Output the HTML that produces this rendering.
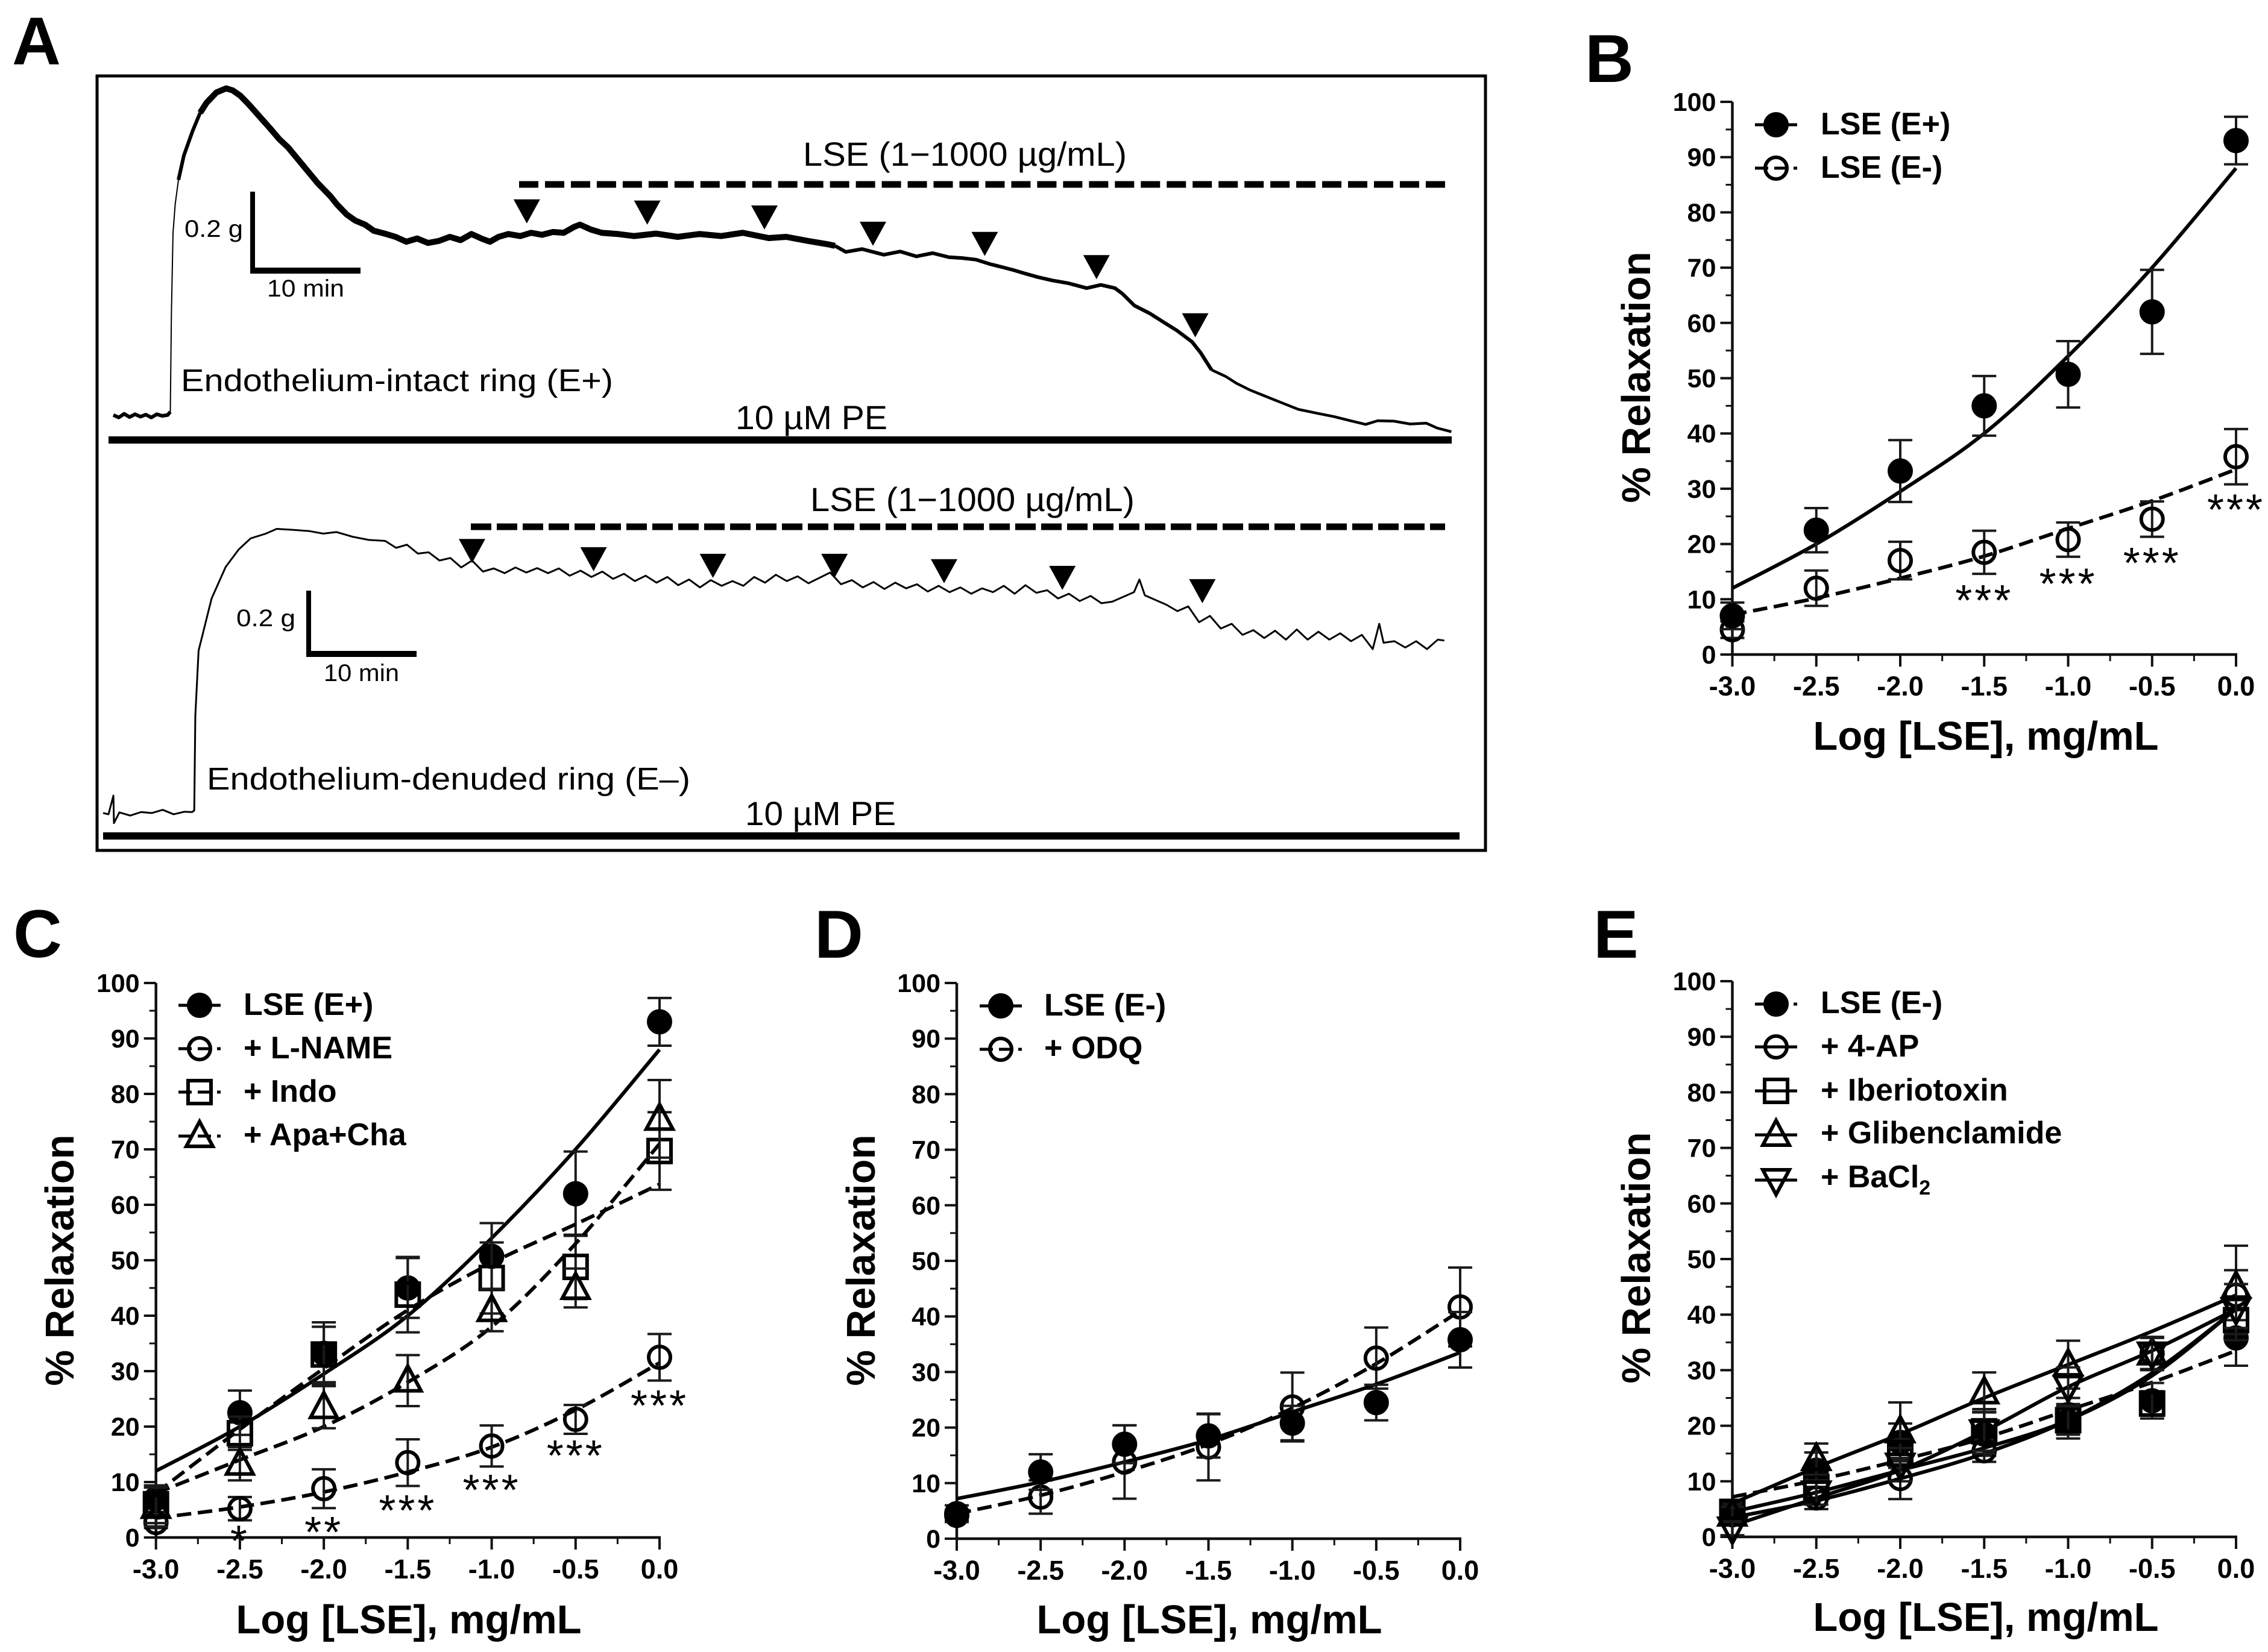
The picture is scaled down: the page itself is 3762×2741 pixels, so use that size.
<!DOCTYPE html>
<html lang="en">
<head>
<meta charset="utf-8">
<title>LSE vascular relaxation figure</title>
<style>
html,body{margin:0;padding:0;background:#fff;}
svg{display:block;}
text{font-family:"Liberation Sans",Arial,sans-serif;fill:#000;}
.b{font-weight:bold;}
.letter{font-weight:bold;font-size:112px;}
.title{font-weight:bold;font-size:67px;}
.leg{font-weight:bold;font-size:52px;}
.anno{font-size:48px;}
</style>
</head>
<body>
<svg id="fig" xmlns="http://www.w3.org/2000/svg" width="3762" height="2741" viewBox="0 0 3762 2741">
<rect x="0" y="0" width="3762" height="2741" fill="#fff"/>

<text class="letter" x="20" y="107">A</text>
<text class="letter" x="2629" y="136">B</text>
<text class="letter" x="22" y="1588">C</text>
<text class="letter" x="1351" y="1589">D</text>
<text class="letter" x="2643" y="1589">E</text>

<g id="panel-a">
<rect x="161" y="126" width="2303" height="1285" fill="none" stroke="#000" stroke-width="5"/>
<text class="anno" x="1332" y="275" textLength="537" lengthAdjust="spacingAndGlyphs" style="font-size:56px">LSE (1−1000 µg/mL)</text>
<line x1="861" y1="306" x2="2397" y2="306" stroke="#000" stroke-width="11" stroke-dasharray="32 10.97"/>
<text class="anno" x="1220" y="712" textLength="252" lengthAdjust="spacingAndGlyphs" style="font-size:56px">10 µM PE</text>
<rect x="180" y="724" width="2228" height="12" fill="#000"/>
<text class="anno" x="300" y="649" textLength="717" lengthAdjust="spacingAndGlyphs" style="font-size:52px">Endothelium-intact ring (E+)</text>
<text class="anno" x="306" y="393" textLength="97" lengthAdjust="spacingAndGlyphs" style="font-size:40px">0.2 g</text>
<text class="anno" x="443" y="492" textLength="128" lengthAdjust="spacingAndGlyphs" style="font-size:40px">10 min</text>
<rect x="415" y="318" width="8" height="136" fill="#000"/>
<rect x="415" y="444" width="183" height="10" fill="#000"/>

<text class="anno" x="1344" y="848" textLength="538" lengthAdjust="spacingAndGlyphs" style="font-size:56px">LSE (1−1000 µg/mL)</text>
<line x1="781" y1="874" x2="2397" y2="874" stroke="#000" stroke-width="11" stroke-dasharray="34 9"/>
<text class="anno" x="1236" y="1369" textLength="250" lengthAdjust="spacingAndGlyphs" style="font-size:56px">10 µM PE</text>
<rect x="171" y="1381" width="2250" height="12" fill="#000"/>
<text class="anno" x="343" y="1310" textLength="802" lengthAdjust="spacingAndGlyphs" style="font-size:52px">Endothelium-denuded ring (E–)</text>
<text class="anno" x="392" y="1039" textLength="98" lengthAdjust="spacingAndGlyphs" style="font-size:40px">0.2 g</text>
<text class="anno" x="537" y="1130" textLength="125" lengthAdjust="spacingAndGlyphs" style="font-size:40px">10 min</text>
<rect x="508" y="980" width="8" height="110" fill="#000"/>
<rect x="508" y="1080" width="183" height="10" fill="#000"/>
</g>

<g id="panel-b">
<text class="title" transform="translate(2737 626) rotate(-90)" text-anchor="middle">% Relaxation</text>
<text class="title" x="3294" y="1244" text-anchor="middle">Log [LSE], mg/mL</text>
<text class="leg" x="3020" y="223">LSE (E+)</text>
<text class="leg" x="3020" y="295">LSE (E-)</text>
</g>

<g id="panel-c">
<text class="title" transform="translate(122 2091) rotate(-90)" text-anchor="middle">% Relaxation</text>
<text class="title" x="678" y="2710" text-anchor="middle">Log [LSE], mg/mL</text>
<text class="leg" x="404" y="1684">LSE (E+)</text>
<text class="leg" x="404" y="1756">+ L-NAME</text>
<text class="leg" x="404" y="1828">+ Indo</text>
<text class="leg" x="404" y="1900">+ Apa+Cha</text>
</g>

<g id="panel-d">
<text class="title" transform="translate(1451 2091) rotate(-90)" text-anchor="middle">% Relaxation</text>
<text class="title" x="2006" y="2710" text-anchor="middle">Log [LSE], mg/mL</text>
<text class="leg" x="1732" y="1685">LSE (E-)</text>
<text class="leg" x="1732" y="1756">+ ODQ</text>
</g>

<g id="panel-e">
<text class="title" transform="translate(2737 2087) rotate(-90)" text-anchor="middle">% Relaxation</text>
<text class="title" x="3294" y="2706" text-anchor="middle">Log [LSE], mg/mL</text>
<text class="leg" x="3020" y="1681">LSE (E-)</text>
<text class="leg" x="3020" y="1753">+ 4-AP</text>
<text class="leg" x="3020" y="1826">+ Iberiotoxin</text>
<text class="leg" x="3020" y="1897">+ Glibenclamide</text>
<text class="leg" x="3020" y="1970">+ BaCl<tspan dy="12" style="font-size:34px">2</tspan></text>
</g>
</svg>

<script>
// ---------- shared axes data ----------
const logDoses = [-3, -2.5, -2, -1.5, -1, -0.5, 0];
const xTickLabels = ['-3.0', '-2.5', '-2.0', '-1.5', '-1.0', '-0.5', '0.0'];
const xMinorTicks = [-2.75, -2.25, -1.75, -1.25, -0.75, -0.25];
const yTicks = [0, 10, 20, 30, 40, 50, 60, 70, 80, 90, 100];
const yMinorTicks = [5, 15, 25, 35, 45, 55, 65, 75, 85, 95];

// ---------- panels B-E series values ----------
const lseEPlus = [7, 22.5, 33.2, 45, 50.7, 62, 93];
const lseEPlusErr = [2.4, 4, 5.6, 5.4, 6, 7.6, 4.3];
const lseEPlusFit = [12, 20, 29.5, 40, 54, 70, 88];
const lseEMinus = [4.5, 12, 17, 18.5, 20.8, 24.5, 35.8];
const lseEMinusErr = [1.5, 3.2, 3.4, 3.9, 3.1, 3.2, 5];
const lseEMinusFit = [7.2, 10.2, 13.8, 17.8, 22.8, 27.8, 33.5];

const lNameValues = [2.7, 5.2, 8.8, 13.5, 16.5, 21.3, 32.5];
const lNameErr = [1, 2.1, 3.5, 4.2, 3.7, 2.6, 4.2];
const lNameFit = [3.5, 5.5, 8.2, 11.8, 16.3, 23, 31.5];
const indoValues = [6, 18.8, 33, 43.8, 46.8, 48.8, 69.7];
const indoErr = [3.4, 3, 5, 6.8, 6.4, 5.8, 7];
const indoFit = [8, 19.5, 30.5, 41, 49.5, 56.5, 63.7];
const apaChaValues = [5.5, 13.3, 23.5, 28.3, 41, 45, 75.5];
const apaChaErr = [3.5, 3, 3.8, 4.6, 3.8, 3.5, 7];
const apaChaFit = [8, 14, 20, 28, 38, 53, 71];

const odqValues = [4.2, 7.5, 13.8, 16.5, 23.7, 32.5, 41.7];
const odqErr = [1, 3, 6.6, 6, 6.2, 5.5, 7.1];
const odqFit = [4.5, 7.8, 12, 17, 23.5, 31.5, 41];

const fourApValues = [4, 7, 10.5, 15.5, 22, 33, 43.5];
const fourApErr = [1.2, 2, 3.7, 2, 3, 2.8, 4.5];
const fourApFit = [3.5, 6.5, 10.5, 15, 21, 29.5, 41];
const iberiotoxinValues = [4.5, 9, 15, 19, 21, 24, 39];
const iberiotoxinErr = [1.4, 2, 2.6, 3.5, 2.6, 2.2, 3.6];
const iberiotoxinFit = [4.5, 8, 12, 16, 21, 29, 41];
const glibenclamideValues = [4, 14, 19, 26, 31, 33, 45];
const glibenclamideErr = [1.4, 2.8, 5.2, 3.6, 4.3, 2.9, 7.4];
const glibenclamideFit = [6, 12.5, 18.5, 25, 31, 37, 43.5];
const baclValues = [1.5, 8, 13, 19, 27, 33, 41];
const baclErr = [1.2, 2.2, 3, 4, 3.5, 3, 4.5];
const baclFit = [2, 7, 12, 19, 27, 33.5, 41];

// ---------- significance labels ----------
const panelBStarDoses = [-1.5, -1, -0.5, 0];
const panelBStarLabels = ['***', '***', '***', '***'];
const panelBStarLevels = [11, 14, 17.8, 27.4];
const panelCStarDoses = [-2.5, -2, -1.5, -1, -0.5, 0];
const panelCStarLabels = ['*', '**', '***', '***', '***', '***'];
const panelCStarLevels = [0.6, 2.2, 6.1, 9.8, 16, 25];

// ---------- panel A myograph traces (minutes, grams) ----------
const intactTime = [0,0.5,1,1.5,2,2.5,3,3.5,4,4.5,5,5.25,5.35,5.5,5.7,6,6.5,7.3,8,8.6,9.5,10.4,11,11.7,12.5,13.5,14.5,15.3,16.1,17.5,18.8,20,20.6,21.5,22.3,23.2,24,25,26,27,28,29,30,31,32,33,34,34.7,35.5,36.4,37.5,38.5,39.5,40.5,41.5,42.5,43,44,45,46.5,48,50,52,54,56,58,60.4,62,64,65.8,66.5,67.5,69,71,72.5,74,75.5,77,78.2,79.5,80.8,82,83,84,85.2,86.5,88,89.7,91,92.3,93,94.1,95.5,96.8,98,99.4,100.2,101.2,102.5,103.5,104.7,106,107.5,109.2,111,112.5,114,115.4,116.5,118,119.5,121,122,123.3];
const intactTension = [0.002,-0.004,0.005,-0.003,0.004,-0.002,0.003,-0.004,0.004,0,0.002,0.01,0.25,0.45,0.52,0.58,0.64,0.7,0.745,0.77,0.795,0.805,0.8,0.787,0.765,0.735,0.705,0.68,0.66,0.615,0.573,0.54,0.52,0.495,0.48,0.47,0.455,0.448,0.44,0.428,0.436,0.425,0.43,0.44,0.432,0.447,0.435,0.428,0.44,0.447,0.442,0.45,0.445,0.452,0.45,0.465,0.47,0.458,0.45,0.447,0.442,0.448,0.44,0.447,0.442,0.45,0.437,0.44,0.43,0.422,0.418,0.403,0.41,0.396,0.404,0.392,0.4,0.39,0.388,0.384,0.373,0.365,0.358,0.35,0.341,0.333,0.326,0.314,0.322,0.314,0.3,0.271,0.252,0.23,0.21,0.182,0.155,0.113,0.097,0.08,0.064,0.05,0.034,0.016,0.006,-0.002,-0.012,-0.021,-0.012,-0.013,-0.02,-0.018,-0.03,-0.039];
const denudedTime = [0,0.5,0.95,1,1.5,2.5,3.5,4.5,5.5,6.5,7.5,8.2,8.4,8.5,8.8,10,11.3,12.5,13.6,15,16,17.5,19,20.3,21.5,23,24.5,26,27,28,29,30,31,32,33,34,35,36,37,38,39,40,41,42,43,44,45,46,47,48,49,50,51,52,53,54,55,56,57,58,59,60,61,62,63,64,65,66,67,68,69,70,71,72,73,74,75,76,77,78,79,80,81,82,83,84,85,86,87,88,89,90,91,92,93,94,95,95.5,96,97,98,99,100,101,102,103,104,105,106,107,108,109,110,111,112,113,114,115,116,117,117.6,118,119,120,121,122,123,123.6];
const denudedTension = [0.002,-0.002,0.057,-0.03,0.004,-0.006,0.005,0.002,0.012,-0.002,0.006,0.005,0.01,0.31,0.515,0.68,0.78,0.835,0.87,0.885,0.9,0.897,0.893,0.885,0.89,0.875,0.865,0.862,0.84,0.85,0.822,0.826,0.8,0.808,0.778,0.8,0.765,0.775,0.76,0.778,0.762,0.776,0.76,0.775,0.752,0.768,0.748,0.765,0.742,0.758,0.735,0.752,0.73,0.748,0.722,0.74,0.715,0.738,0.72,0.735,0.72,0.748,0.73,0.755,0.735,0.75,0.728,0.745,0.762,0.725,0.738,0.715,0.732,0.71,0.73,0.712,0.725,0.702,0.72,0.7,0.715,0.695,0.712,0.7,0.72,0.695,0.722,0.698,0.706,0.68,0.695,0.672,0.688,0.665,0.67,0.685,0.7,0.74,0.69,0.675,0.66,0.64,0.655,0.605,0.625,0.585,0.6,0.565,0.58,0.555,0.578,0.55,0.582,0.55,0.575,0.55,0.57,0.545,0.565,0.52,0.6,0.54,0.545,0.525,0.545,0.52,0.55,0.547];
const intactArrowTimes = [38.1, 49.2, 60, 70, 80.3, 90.6, 99.7];
const intactArrowTips = [0.473, 0.47, 0.458, 0.418, 0.393, 0.336, 0.193];
const denudedArrowTimes = [34, 45.2, 56.2, 67.4, 77.5, 88.4, 101.3];
const denudedArrowTips = [0.792, 0.766, 0.745, 0.745, 0.728, 0.707, 0.665];

// ---------- helpers ----------
const NS = 'http://www.w3.org/2000/svg';
function make(tag, parent, attrs) {
  const el = document.createElementNS(NS, tag);
  for (const k in attrs) el.setAttribute(k, attrs[k]);
  parent.appendChild(el);
  return el;
}
function smoothPath(pts) {
  let d = 'M' + pts[0][0] + ' ' + pts[0][1];
  for (let i = 0; i < pts.length - 1; i++) {
    const p0 = pts[Math.max(i - 1, 0)], p1 = pts[i], p2 = pts[i + 1], p3 = pts[Math.min(i + 2, pts.length - 1)];
    d += ' C' + (p1[0] + (p2[0] - p0[0]) / 6) + ' ' + (p1[1] + (p2[1] - p0[1]) / 6) + ' ' +
      (p2[0] - (p3[0] - p1[0]) / 6) + ' ' + (p2[1] - (p3[1] - p1[1]) / 6) + ' ' + p2[0] + ' ' + p2[1];
  }
  return d;
}
function drawMarker(parent, cx, cy, shape, filled, label) {
  const fill = filled ? '#000' : 'none';
  const style = { fill: fill, stroke: '#000', 'stroke-width': 6 };
  let el;
  if (shape === 'circle') {
    el = make('circle', parent, Object.assign({ cx: cx, cy: cy, r: filled ? 18 : 18 }, style));
  } else if (shape === 'square') {
    el = make('rect', parent, Object.assign({ x: cx - 19, y: cy - 19, width: 38, height: 38 }, style));
  } else if (shape === 'up') {
    el = make('polygon', parent, Object.assign({ points: cx + ',' + (cy - 24) + ' ' + (cx - 22) + ',' + (cy + 17) + ' ' + (cx + 22) + ',' + (cy + 17) }, style));
  } else {
    el = make('polygon', parent, Object.assign({ points: cx + ',' + (cy + 24) + ' ' + (cx - 22) + ',' + (cy - 17) + ' ' + (cx + 22) + ',' + (cy - 17) }, style));
  }
  
  
}

function drawPanel(panelId, geom, series, legendRows, starDoses, starLabels, starLevels) {
  const g = document.getElementById(panelId);
  const sx = v => geom.x0 + (v + 3) / 3 * (geom.x1 - geom.x0);
  const sy = v => geom.y0 - v / 100 * (geom.y0 - geom.y100);

  const yLine = make('line', g, { x1: geom.x0, y1: sy(100), x2: geom.x0, y2: geom.y0 + 2, stroke: '#111', 'stroke-width': 4.5 });
  
  
  const xLine = make('line', g, { x1: geom.x0 - 2, y1: geom.y0, x2: geom.x1 + 2, y2: geom.y0, stroke: '#111', 'stroke-width': 4.5 });
  
  

  yTicks.forEach(v => {
    const t = make('line', g, { x1: geom.x0 - 20, y1: sy(v), x2: geom.x0, y2: sy(v), stroke: '#111', 'stroke-width': 4 });
    
    
    const l = make('text', g, { x: geom.x0 - 27, y: sy(v) + 15, 'text-anchor': 'end', class: 'b', 'font-size': 43 });
    l.textContent = String(v);
    
    
  });
  yMinorTicks.forEach(v => {
    const t = make('line', g, { x1: geom.x0 - 11, y1: sy(v), x2: geom.x0, y2: sy(v), stroke: '#111', 'stroke-width': 3 });
    
    
  });
  logDoses.forEach((v, i) => {
    const t = make('line', g, { x1: sx(v), y1: geom.y0, x2: sx(v), y2: geom.y0 + 20, stroke: '#111', 'stroke-width': 4 });
    
    
    const l = make('text', g, { x: sx(v), y: geom.y0 + 68, 'text-anchor': 'middle', class: 'b', 'font-size': 45 });
    l.textContent = xTickLabels[i];
    
    
  });
  xMinorTicks.forEach(v => {
    const t = make('line', g, { x1: sx(v), y1: geom.y0, x2: sx(v), y2: geom.y0 + 11, stroke: '#111', 'stroke-width': 3 });
    
    
  });

  series.forEach(s => {
    const fit = make('path', g, { d: smoothPath(logDoses.map((d, i) => [sx(d), sy(s.fit[i])])), fill: 'none', stroke: '#000', 'stroke-width': 6 });
    if (s.dashed) fit.setAttribute('stroke-dasharray', '24 11');
    
    
    logDoses.forEach((d, i) => {
      const x = sx(d), top = sy(s.values[i] + s.errors[i]), bot = sy(s.values[i] - s.errors[i]);
      const bar = make('path', g, {
        d: 'M' + x + ' ' + top + 'V' + bot + 'M' + (x - 20) + ' ' + top + 'H' + (x + 20) + 'M' + (x - 20) + ' ' + bot + 'H' + (x + 20),
        fill: 'none', stroke: '#1a1a1a', 'stroke-width': 4
      });
      
      
      drawMarker(g, x, sy(s.values[i]), s.shape, s.filled, s.name + '-point');
    });
  });

  legendRows.forEach(r => {
    const s = r.series;
    const key = make('line', g, { x1: geom.legendX - 35, y1: r.y, x2: geom.legendX + 35, y2: r.y, stroke: '#000', 'stroke-width': 5 });
    if (s.dashed) key.setAttribute('stroke-dasharray', '22 10');
    
    
    drawMarker(g, geom.legendX, r.y, s.shape, s.filled, 'legend-marker-' + s.name);
  });

  starDoses.forEach((d, i) => {
    const st = make('text', g, { x: sx(d), y: sy(starLevels[i]) + 36, 'text-anchor': 'middle', 'font-size': 72, 'letter-spacing': 4 });
    st.textContent = starLabels[i];
    
    
  });
}

const sEPlus = { name: 'lse-e-plus', values: lseEPlus, errors: lseEPlusErr, fit: lseEPlusFit, shape: 'circle', filled: true, dashed: false };
const sEMinusOpen = { name: 'lse-e-minus', values: lseEMinus, errors: lseEMinusErr, fit: lseEMinusFit, shape: 'circle', filled: false, dashed: true };
const sEMinusSolid = { name: 'lse-e-minus', values: lseEMinus, errors: lseEMinusErr, fit: lseEMinusFit, shape: 'circle', filled: true, dashed: false };
const sEMinusSolidDash = { name: 'lse-e-minus', values: lseEMinus, errors: lseEMinusErr, fit: lseEMinusFit, shape: 'circle', filled: true, dashed: true };
const sLName = { name: 'l-name', values: lNameValues, errors: lNameErr, fit: lNameFit, shape: 'circle', filled: false, dashed: true };
const sIndo = { name: 'indo', values: indoValues, errors: indoErr, fit: indoFit, shape: 'square', filled: false, dashed: true };
const sApaCha = { name: 'apa-cha', values: apaChaValues, errors: apaChaErr, fit: apaChaFit, shape: 'up', filled: false, dashed: true };
const sOdq = { name: 'odq', values: odqValues, errors: odqErr, fit: odqFit, shape: 'circle', filled: false, dashed: true };
const s4Ap = { name: '4-ap', values: fourApValues, errors: fourApErr, fit: fourApFit, shape: 'circle', filled: false, dashed: false };
const sIberio = { name: 'iberiotoxin', values: iberiotoxinValues, errors: iberiotoxinErr, fit: iberiotoxinFit, shape: 'square', filled: false, dashed: false };
const sGliben = { name: 'glibenclamide', values: glibenclamideValues, errors: glibenclamideErr, fit: glibenclamideFit, shape: 'up', filled: false, dashed: false };
const sBacl = { name: 'bacl2', values: baclValues, errors: baclErr, fit: baclFit, shape: 'down', filled: false, dashed: false };

drawPanel('panel-b', { x0: 2873.5, x1: 3709, y0: 1086, y100: 169, legendX: 2946 },
  [sEMinusOpen, sEPlus],
  [{ series: sEPlus, y: 207 }, { series: sEMinusOpen, y: 279 }],
  panelBStarDoses, panelBStarLabels, panelBStarLevels);
drawPanel('panel-c', { x0: 258.7, x1: 1094, y0: 2551, y100: 1631, legendX: 331 },
  [sEPlus, sLName, sIndo, sApaCha],
  [{ series: sEPlus, y: 1668 }, { series: sLName, y: 1740 }, { series: sIndo, y: 1812 }, { series: sApaCha, y: 1885 }],
  panelCStarDoses, panelCStarLabels, panelCStarLevels);
drawPanel('panel-d', { x0: 1587, x1: 2422, y0: 2553, y100: 1631, legendX: 1660 },
  [sOdq, sEMinusSolid],
  [{ series: sEMinusSolid, y: 1669 }, { series: sOdq, y: 1741 }],
  [], [], []);
drawPanel('panel-e', { x0: 2873.5, x1: 3709, y0: 2550, y100: 1628, legendX: 2946 },
  [sEMinusSolidDash, s4Ap, sIberio, sGliben, sBacl],
  [{ series: sEMinusSolidDash, y: 1666 }, { series: s4Ap, y: 1737 }, { series: sIberio, y: 1810 }, { series: sGliben, y: 1883 }, { series: sBacl, y: 1958 }],
  [], [], []);

// ---------- panel A traces ----------
function drawTrace(geom, times, tensions, arrowTimes, arrowTips, label) {
  const g = document.getElementById('panel-a');
  const tx = t => geom.x0 + t * geom.pxPerMin;
  const ty = v => geom.y0 - v * geom.pxPerGram;
  geom.segments.forEach(seg => {
    const pts = [];
    times.forEach((t, i) => { if (t >= seg.from && t <= seg.to) pts.push(tx(t) + ',' + ty(tensions[i])); });
    const line = make('polyline', g, { points: pts.join(' '), fill: 'none', stroke: '#000', 'stroke-width': seg.width, 'stroke-linejoin': 'round' });
    
    
  });
  arrowTimes.forEach((t, i) => {
    const x = tx(t), y = ty(arrowTips[i]);
    const a = make('polygon', g, { points: x + ',' + y + ' ' + (x - 22) + ',' + (y - 40) + ' ' + (x + 22) + ',' + (y - 40), fill: '#000' });
    
    
  });
}
drawTrace({ x0: 188, y0: 690, pxPerMin: 18, pxPerGram: 675,
    segments: [{ from: 0, to: 5.25, width: 6 }, { from: 5.25, to: 6, width: 2 }, { from: 6, to: 8, width: 6 }, { from: 8, to: 66.5, width: 10 }, { from: 66.5, to: 101.2, width: 6 }, { from: 101.2, to: 124, width: 4.5 }] },
  intactTime, intactTension, intactArrowTimes, intactArrowTips, 'intact-ring');
drawTrace({ x0: 171, y0: 1350, pxPerMin: 18, pxPerGram: 525,
    segments: [{ from: 0, to: 124, width: 3 }] },
  denudedTime, denudedTension, denudedArrowTimes, denudedArrowTips, 'denuded-ring');
</script>
</body>
</html>
